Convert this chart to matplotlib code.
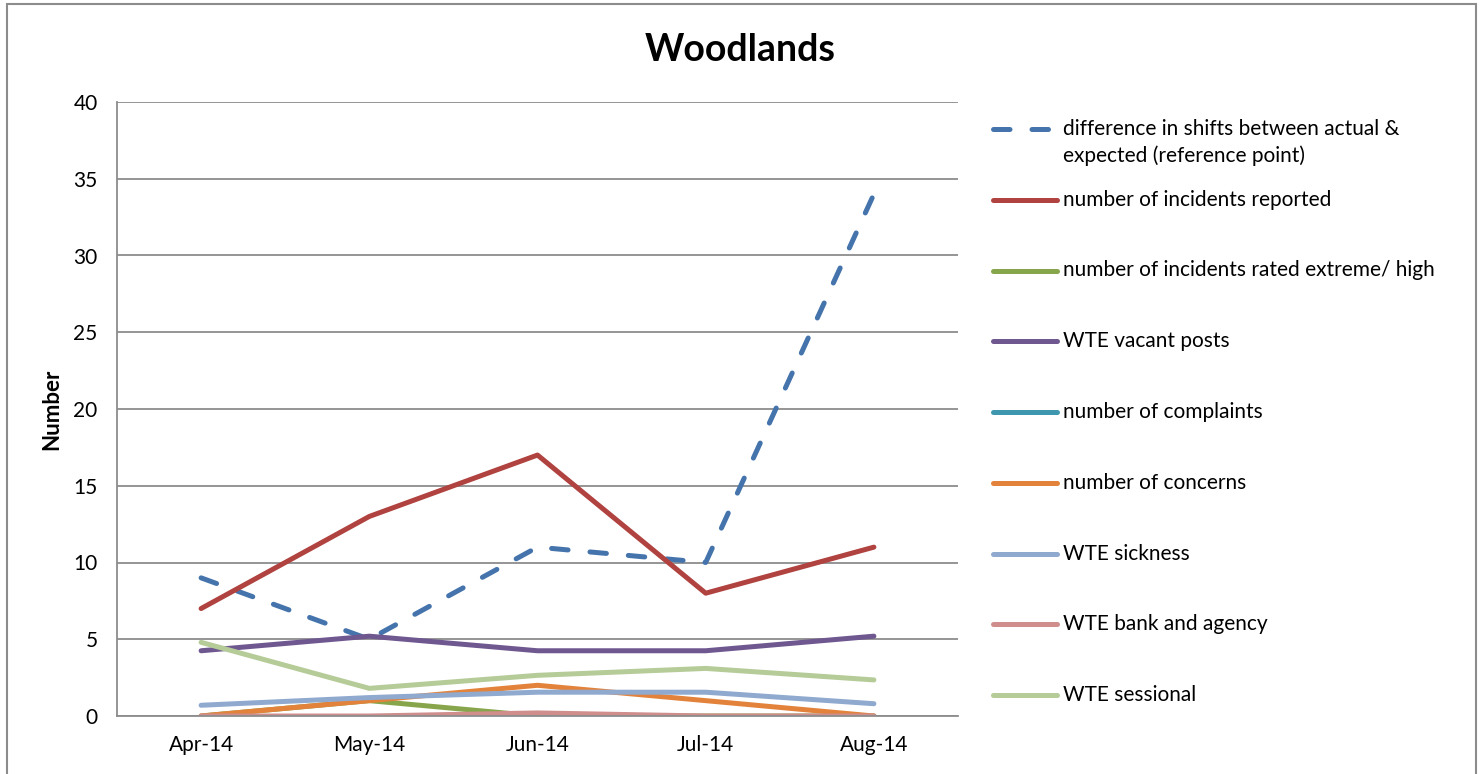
import matplotlib
matplotlib.use('Agg')
import matplotlib.pyplot as plt
from matplotlib.lines import Line2D
from matplotlib.patches import Rectangle

plt.rcParams['font.family'] = ['Lato', 'DejaVu Sans']

months = ['Apr-14', 'May-14', 'Jun-14', 'Jul-14', 'Aug-14']

shift_diff = [9, 5, 11, 10, 34]
incidents = [7, 13, 17, 8, 11]
incidents_high = [0, 1, 0, 0, 0]
vacant_posts = [4.25, 5.2, 4.25, 4.25, 5.2]
complaints = [0, 0, 0, 0, 0]
concerns = [0, 1, 2, 1, 0]
sickness = [0.7, 1.2, 1.55, 1.55, 0.8]
bank_agency = [0, 0, 0.2, 0, 0]
sessional = [4.8, 1.8, 2.65, 3.1, 2.35]

series = [
    ('difference in shifts between actual &\nexpected (reference point)', shift_diff, '#4574AC', True),
    ('number of incidents reported', incidents, '#B0423F', False),
    ('number of incidents rated extreme/ high', incidents_high, '#87A54A', False),
    ('WTE vacant posts', vacant_posts, '#6F5790', False),
    ('number of complaints', complaints, '#3E97AE', False),
    ('number of concerns', concerns, '#E3823A', False),
    ('WTE sickness', sickness, '#8FA9CF', False),
    ('WTE bank and agency', bank_agency, '#CF8D8C', False),
    ('WTE sessional', sessional, '#B5CB98', False),
]

W, H = 1484, 774
fig = plt.figure(figsize=(W / 100, H / 100), dpi=100)
ax = fig.add_axes([117 / W, 1 - 716 / H, (958 - 117) / W, (716 - 102) / H])

x = range(len(months))
lw = 3.6
for label, vals, color, dashed in series:
    if dashed:
        ax.plot(x, vals, color=color, lw=lw, dashes=(3.3, 4.4),
                dash_capstyle='round', solid_capstyle='round')
    else:
        ax.plot(x, vals, color=color, lw=lw, solid_capstyle='round',
                solid_joinstyle='round')

ax.set_xlim(-0.5, len(months) - 0.5)
ax.set_ylim(0, 40)
ax.set_yticks(range(0, 41, 5))
ax.set_xticks(list(x))
ax.set_xticklabels(months)
ax.tick_params(axis='both', length=0, labelsize=15, colors='black')
ax.tick_params(axis='y', pad=14)
ax.tick_params(axis='x', pad=14)
ax.yaxis.grid(True, color='#8c8c8c', lw=1.3)
ax.set_axisbelow(True)
for s in ['top', 'right']:
    ax.spines[s].set_visible(False)
for s in ['left', 'bottom']:
    ax.spines[s].set_color('#8c8c8c')
    ax.spines[s].set_linewidth(1.3)
ax.set_ylabel('Number', fontsize=16, fontweight='bold', labelpad=8)

fig.text(740 / W, 1 - 50 / H, 'Woodlands', fontsize=27, fontweight='bold',
         ha='center', va='center')

# legend, Excel style with even spacing
for i, (label, vals, color, dashed) in enumerate(series):
    yf = 1 - (129 + i * 70.75) / H
    ln = Line2D([993 / W, 1057 / W], [yf, yf], transform=fig.transFigure,
                color=color, lw=lw, solid_capstyle='round')
    if dashed:
        ln.set_dashes((3.3, 4.4))
        ln.set_dash_capstyle('round')
    fig.add_artist(ln)
    for k, part in enumerate(label.split('\n')):
        fig.text(1063 / W, yf - k * 27 / H, part, fontsize=15,
                 ha='left', va='center')

# chart frame
fig.add_artist(Rectangle((7 / W, -0.05), (1476 - 7) / W, 1.05 - 4 / H,
                         transform=fig.transFigure, fill=False,
                         edgecolor='#8c8c8c', lw=1.5))

fig.savefig('out.png', dpi=100)
